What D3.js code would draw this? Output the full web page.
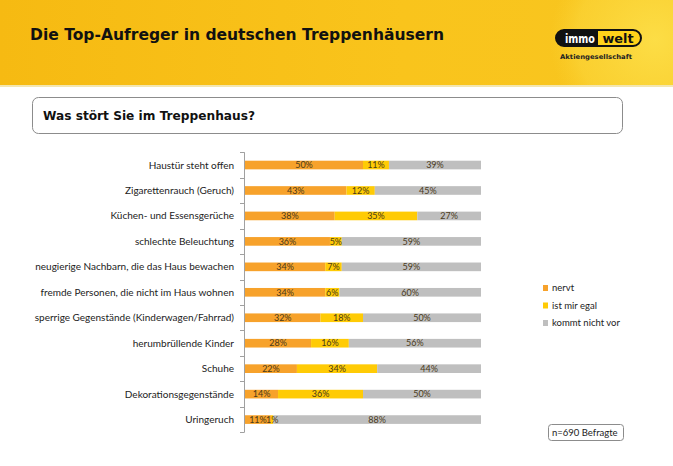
<!DOCTYPE html>
<html><head><meta charset="utf-8">
<script src="https://cdn.jsdelivr.net/npm/d3@7"></script>
<style>html,body{margin:0;padding:0;background:#fff;}svg{display:block;}</style>
</head><body>
<script>
const categories = ["Haustür steht offen","Zigarettenrauch (Geruch)","Küchen- und Essensgerüche","schlechte Beleuchtung","neugierige Nachbarn, die das Haus bewachen","fremde Personen, die nicht im Haus wohnen","sperrige Gegenstände (Kinderwagen/Fahrrad)","herumbrüllende Kinder","Schuhe","Dekorationsgegenstände","Uringeruch"];
const nervt = [50,43,38,36,34,34,32,28,22,14,11];
const egal = [11,12,35,5,7,6,18,16,34,36,1];
const nichtVor = [39,45,27,59,59,60,50,56,44,50,88];
const seriesNames = ["nervt","ist mir egal","kommt nicht vor"];
const colors = ["#F7A22B","#FFCB05","#BFBFBF"];

const W = 673, H = 466;
const svg = d3.select("body").append("svg").attr("width", W).attr("height", H);
const defs = svg.append("defs");
const lg = defs.append("linearGradient").attr("id","hdr").attr("x1",0).attr("y1",0).attr("x2",1).attr("y2",0);
lg.append("stop").attr("offset","0").attr("stop-color","#F6BA12");
lg.append("stop").attr("offset","0.6").attr("stop-color","#F9C41C");
lg.append("stop").attr("offset","1").attr("stop-color","#F8C620");
const rg = defs.append("radialGradient").attr("id","glow").attr("cx",0.5).attr("cy",0.5).attr("r",0.5);
rg.append("stop").attr("offset","0").attr("stop-color","#FDE04A").attr("stop-opacity",0.9);
rg.append("stop").attr("offset","0.75").attr("stop-color","#FBD63A").attr("stop-opacity",0.6);
rg.append("stop").attr("offset","1").attr("stop-color","#FAD02E").attr("stop-opacity",0);

// header
svg.append("rect").attr("x",0).attr("y",0).attr("width",W).attr("height",86).attr("fill","url(#hdr)");
svg.append("clipPath").attr("id","hc").append("rect").attr("width",W).attr("height",86);
svg.append("ellipse").attr("clip-path","url(#hc)").attr("cx",655).attr("cy",40).attr("rx",105).attr("ry",105).attr("fill","url(#glow)");
svg.append("rect").attr("x",0).attr("y",85).attr("width",W).attr("height",2).attr("fill","#F3E6B0");

svg.append("text").attr("x",30).attr("y",40).attr("font-family","DejaVu Sans, Verdana, sans-serif")
  .attr("font-weight","bold").attr("font-size",15).attr("fill","#111")
  .attr("textLength",414).attr("lengthAdjust","spacingAndGlyphs")
  .text("Die Top-Aufreger in deutschen Treppenhäusern");

// logo
const logo = svg.append("g");
logo.append("rect").attr("x",556).attr("y",30).attr("width",85).attr("height",16).attr("rx",8).attr("fill","#FFD21A").attr("stroke","#111").attr("stroke-width",2);
logo.append("path").attr("d","M564,30 H598 V46 H564 A8,8 0 0 1 564,30 Z").attr("fill","#111");
logo.append("text").attr("x",580).attr("y",42.5).attr("text-anchor","middle").attr("font-family","DejaVu Sans, sans-serif").attr("font-weight","bold").attr("font-size",12).attr("fill","#fff").attr("textLength",30).attr("lengthAdjust","spacingAndGlyphs").text("immo");
logo.append("text").attr("x",618).attr("y",42.5).attr("text-anchor","middle").attr("font-family","DejaVu Sans, sans-serif").attr("font-weight","bold").attr("font-size",12).attr("fill","#111").attr("textLength",31).attr("lengthAdjust","spacingAndGlyphs").text("welt");
logo.append("text").attr("x",560).attr("y",59).attr("font-family","DejaVu Sans, sans-serif").attr("font-weight","bold").attr("font-size",6.5).attr("fill","#222").attr("textLength",72).attr("lengthAdjust","spacingAndGlyphs").text("Aktiengesellschaft");

// subtitle box
svg.append("rect").attr("x",32.5).attr("y",97.5).attr("width",590).attr("height",36).attr("rx",6).attr("fill","#fff").attr("stroke","#8c8c8c").attr("stroke-width",1);
svg.append("text").attr("x",43).attr("y",120).attr("font-family","DejaVu Sans, Tahoma, sans-serif").attr("font-weight","bold").attr("font-size",12).attr("fill","#111")
  .attr("textLength",212).attr("lengthAdjust","spacingAndGlyphs").text("Was stört Sie im Treppenhaus?");

// chart
const x = d3.scaleLinear().domain([0,100]).range([245,481]);
const y = d3.scaleBand().domain(categories).range([152.3,432.3]).paddingInner(0.66).paddingOuter(0.33);
const data = categories.map((c,i)=>({cat:c, nervt:nervt[i], egal:egal[i], nicht:nichtVor[i]}));
const stack = d3.stack().keys(["nervt","egal","nicht"])(data);

const g = svg.append("g");
stack.forEach((s,si)=>{
  g.selectAll(null).data(s).enter().append("rect")
    .attr("x",d=>x(d[0])).attr("width",d=>x(d[1])-x(d[0]))
    .attr("y",d=>y(d.data.cat)).attr("height",y.bandwidth())
    .attr("fill",colors[si]);
});
stack.forEach((s,si)=>{
  g.selectAll(null).data(s).enter().append("text")
    .attr("x",d=>x((d[0]+d[1])/2)).attr("y",d=>y(d.data.cat)+y.bandwidth()/2+3.2)
    .attr("text-anchor","middle").attr("font-family","Lato, sans-serif").attr("font-size",9).attr("fill","#4a3a1a")
    .text(d=>(d[1]-d[0])+"%");
});

// axis with ticks at band boundaries
const step = y.step();
const ax = svg.append("g");
ax.append("line").attr("x1",244.5).attr("x2",244.5).attr("y1",152.3).attr("y2",432.3).attr("stroke","#a0a0a0");
d3.range(categories.length+1).forEach(i=>{
  const yy = Math.round(152.3 + i*step)+0.5;
  ax.append("line").attr("x1",240).attr("x2",244.5).attr("y1",yy).attr("y2",yy).attr("stroke","#a0a0a0");
});
categories.forEach(c=>{
  ax.append("text").attr("x",234).attr("y",y(c)+y.bandwidth()/2+3.5).attr("text-anchor","end")
    .attr("font-family","Lato, sans-serif").attr("font-size",10).attr("fill","#222").text(c);
});

// legend
const lgd = svg.append("g");
seriesNames.forEach((n,i)=>{
  const yy = 288 + i*17.5;
  lgd.append("rect").attr("x",543).attr("y",yy-3).attr("width",5).attr("height",6).attr("fill",colors[i]);
  lgd.append("text").attr("x",552).attr("y",yy+3).attr("font-family","Lato, sans-serif").attr("font-size",9.5).attr("fill","#222").text(n);
});

// n box
svg.append("rect").attr("x",548.5).attr("y",424.5).attr("width",75).attr("height",16).attr("rx",3).attr("fill","#fff").attr("stroke","#8c8c8c");
svg.append("text").attr("x",552).attr("y",436).attr("font-family","Lato, sans-serif").attr("font-size",9.5).attr("fill","#222").text("n=690 Befragte");
</script>
</body></html>
